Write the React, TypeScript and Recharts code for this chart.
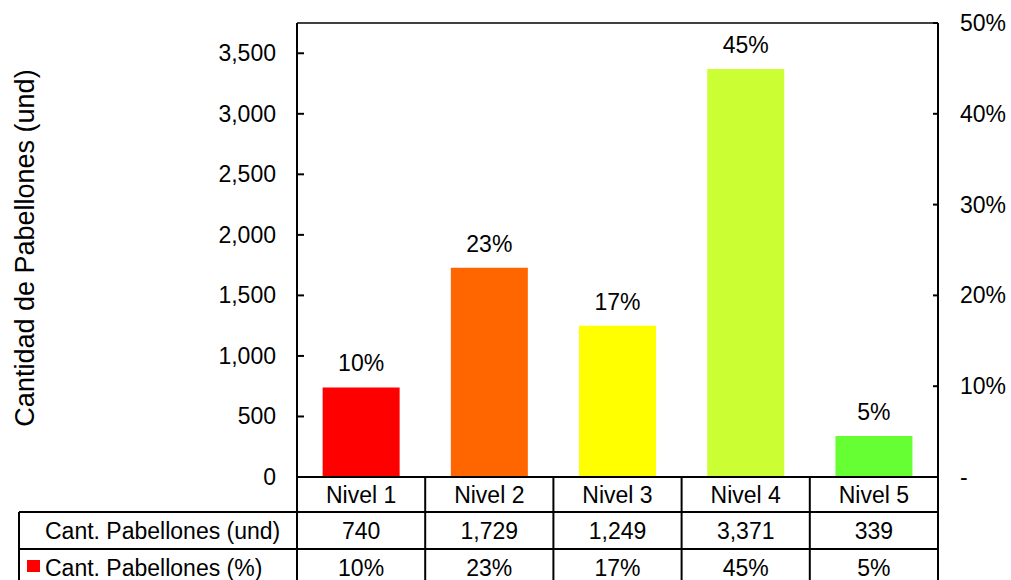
import { ComposedChart, Bar, Line, Cell, XAxis, YAxis, LabelList, ReferenceLine } from "recharts";

const niveles = ["Nivel 1", "Nivel 2", "Nivel 3", "Nivel 4", "Nivel 5"];
const cantidad = [740, 1729, 1249, 3371, 339];
const porcentaje = [10, 23, 17, 45, 5];
const colores = ["#ff0000", "#ff6600", "#ffff00", "#ccff33", "#66ff33"];
const leftTicks = [0, 500, 1000, 1500, 2000, 2500, 3000, 3500];
const rightTicks = [0, 10, 20, 30, 40, 50];

const data = niveles.map((n, i) => ({ name: n, und: cantidad[i], pct: porcentaje[i], idx: i }));

const FONT = "'Liberation Sans', Arial, sans-serif";
const FS = 23;
const W = 1011;
const H = 580;
const PLOT_LEFT = 297;
const PLOT_RIGHT = 938;
const BAND = (PLOT_RIGHT - PLOT_LEFT) / niveles.length;
const ROW1 = 512;
const ROW2 = 549;
const TABLE_LEFT = 19;

const fmt = (v: number) => v.toLocaleString("en-US");

function LeftTick({ x, y, payload }: any) {
  const ax = x + 21;
  return (
    <g>
      <line x1={ax} x2={ax + 7} y1={y} y2={y} stroke="#000" strokeWidth={2} />
      <text x={x} y={y} textAnchor="end" dominantBaseline="central" fontSize={FS} fontFamily={FONT} fill="#000">
        {fmt(payload.value)}
      </text>
    </g>
  );
}

function RightTick({ x, y, payload }: any) {
  const ax = x - 22;
  return (
    <g>
      <line x1={ax - 5} x2={ax} y1={y} y2={y} stroke="#000" strokeWidth={2} />
      <text x={x} y={y} textAnchor="start" dominantBaseline="central" fontSize={FS} fontFamily={FONT} fill="#000">
        {payload.value === 0 ? "-" : `${payload.value}%`}
      </text>
    </g>
  );
}

// data table drawn beneath the category axis
function TableTick({ x, y, payload, index }: any) {
  const i = niveles.indexOf(payload.value);
  const l = x - BAND / 2;
  const r = x + BAND / 2;
  const txt = { fontSize: FS, fontFamily: FONT, fill: "#000", textAnchor: "middle" as const, dominantBaseline: "central" as const };
  return (
    <g>
      {index === 0 && (
        <g>
          <line x1={l} x2={l} y1={y} y2={H} stroke="#000" strokeWidth={2} />
          <line x1={TABLE_LEFT} x2={TABLE_LEFT} y1={ROW1} y2={H} stroke="#000" strokeWidth={2} />
          <line x1={TABLE_LEFT} x2={l} y1={ROW1} y2={ROW1} stroke="#000" strokeWidth={2} />
          <line x1={TABLE_LEFT} x2={l} y1={ROW2} y2={ROW2} stroke="#000" strokeWidth={2} />
          <text x={45} y={(ROW1 + ROW2) / 2} fontSize={FS} fontFamily={FONT} fill="#000" dominantBaseline="central">
            Cant. Pabellones (und)
          </text>
          <rect x={27} y={560} width={13} height={12} fill={colores[0]} />
          <text x={45} y={(ROW2 + H) / 2 + 3} fontSize={FS} fontFamily={FONT} fill="#000" dominantBaseline="central">
            Cant. Pabellones (%)
          </text>
        </g>
      )}
      <line x1={r} x2={r} y1={y} y2={H} stroke="#000" strokeWidth={2} />
      <line x1={l} x2={r} y1={ROW1} y2={ROW1} stroke="#000" strokeWidth={2} />
      <line x1={l} x2={r} y1={ROW2} y2={ROW2} stroke="#000" strokeWidth={2} />
      <text x={x} y={(y + ROW1) / 2} {...txt}>{payload.value}</text>
      <text x={x} y={(ROW1 + ROW2) / 2} {...txt}>{fmt(cantidad[i])}</text>
      <text x={x} y={(ROW2 + H) / 2 + 3} {...txt}>{porcentaje[i]}%</text>
    </g>
  );
}

export default function App() {
  return (
    <div style={{ position: "absolute", left: 0, top: 0, width: W, height: H, background: "#fff" }}>
      <ComposedChart
        width={W}
        height={H}
        data={data}
        margin={{ top: 23, right: 13, bottom: 0, left: 237 }}
        barCategoryGap="20%"
      >
        <XAxis
          dataKey="name"
          height={103}
          tickSize={0}
          tickMargin={0}
          tickLine={false}
          interval={0}
          axisLine={{ stroke: "#000", strokeWidth: 2 }}
          tick={<TableTick />}
        />
        <YAxis
          yAxisId="left"
          width={60}
          domain={[0, 3750]}
          ticks={leftTicks}
          tickSize={0}
          tickMargin={21}
          tickLine={false}
          axisLine={{ stroke: "#000", strokeWidth: 2 }}
          tick={<LeftTick />}
          label={{
            content: () => (
              <text x={25} y={248} transform="rotate(-90 25 248)" textAnchor="middle" dominantBaseline="central"
                fontSize={27} fontFamily={FONT} fill="#000">
                Cantidad de Pabellones (und)
              </text>
            ),
          }}
        />
        <YAxis
          yAxisId="right"
          orientation="right"
          width={60}
          domain={[0, 50]}
          ticks={rightTicks}
          allowDataOverflow
          tickSize={0}
          tickMargin={22}
          tickLine={false}
          axisLine={{ stroke: "#000", strokeWidth: 2 }}
          tick={<RightTick />}
        />
        <ReferenceLine yAxisId="left" y={3750} stroke="#000" strokeWidth={1.5} />
        <Bar yAxisId="left" dataKey="und" isAnimationActive={false}>
          {data.map((d) => (
            <Cell key={d.name} fill={colores[d.idx]} />
          ))}
          <LabelList
            dataKey="pct"
            position="top"
            offset={16}
            formatter={(v: any) => `${v}%`}
            style={{ fontSize: FS, fontFamily: FONT, fill: "#000" }}
          />
        </Bar>
        {/* percentage series only carries the secondary axis, kept invisible */}
        <Line yAxisId="right" dataKey="pct" stroke="none" dot={false} activeDot={false} isAnimationActive={false} />
      </ComposedChart>
    </div>
  );
}
